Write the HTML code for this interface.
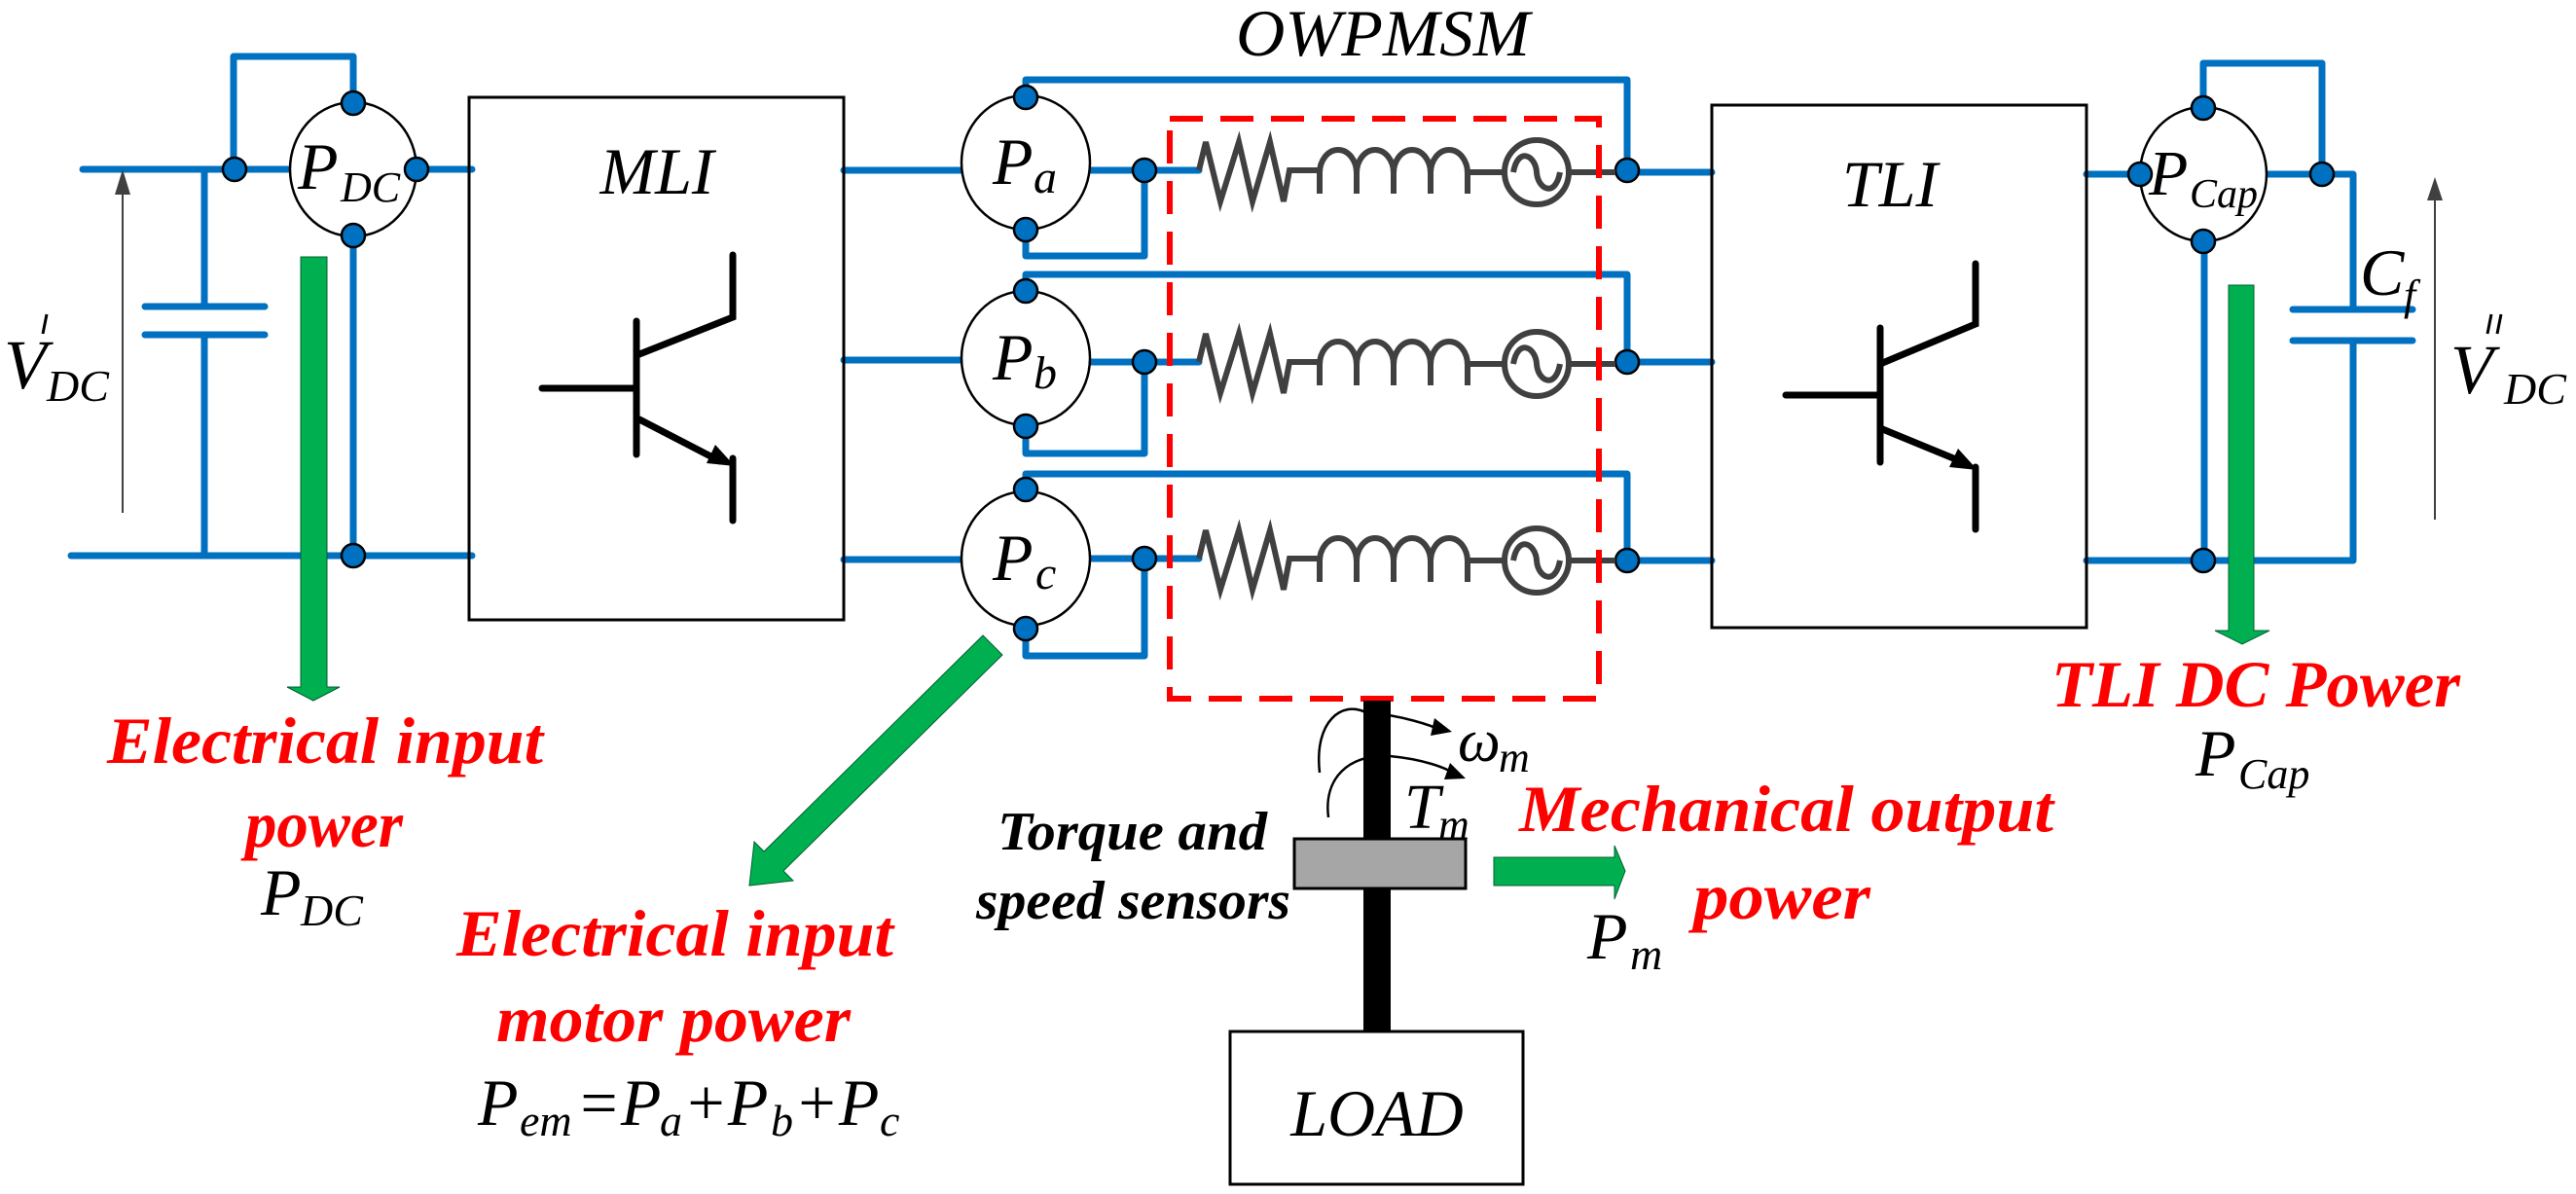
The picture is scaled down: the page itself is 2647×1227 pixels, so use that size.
<!DOCTYPE html>
<html><head><meta charset="utf-8"><style>html,body{margin:0;padding:0;background:#fff}svg{display:block}svg text{font-family:"Liberation Serif","DejaVu Serif",serif}</style></head>
<body>
<svg width="2647" height="1227" viewBox="0 0 2647 1227" xmlns="http://www.w3.org/2000/svg">
<g fill="none" stroke="#0070c0" stroke-width="7" stroke-linecap="round" stroke-linejoin="round">
<path d="M85,174 H485"/>
<path d="M73,571 H485"/>
<path d="M240,174 V58 H363 V106"/>
<path d="M210,174 V315 M149,315 H272 M149,344 H272 M210,344 V571"/>
<path d="M363,242 V571"/>
<path d="M867,175 H988 M1120,175 H1232 M1672,177 H1759"/>
<path d="M867,370 H988 M1120,372 H1232 M1672,372 H1759"/>
<path d="M867,575 H988 M1120,574 H1232 M1672,576 H1759"/>
<path d="M1054,100 V82 H1672 V177"/>
<path d="M1176,175 V263 H1054 V236"/>
<path d="M1054,299 V282 H1672 V372"/>
<path d="M1176,372 V466 H1054 V438"/>
<path d="M1054,503 V487 H1672 V576"/>
<path d="M1176,574 V674 H1054 V646"/>
<path d="M2144,179 H2199 M2329,179 H2418 V318 M2356,318 H2479 M2356,350 H2479 M2418,350 V576 H2144"/>
<path d="M2264,111 V65 H2386 V179"/>
<path d="M2265,248 V576"/>
</g>
<g fill="#fff" stroke="#000" stroke-width="2.5">
<ellipse cx="363" cy="174" rx="65" ry="69"/>
<ellipse cx="1054" cy="167" rx="66" ry="69"/>
<ellipse cx="1054" cy="368" rx="66" ry="69"/>
<ellipse cx="1054" cy="574" rx="66" ry="69"/>
<ellipse cx="2264" cy="179" rx="65" ry="69"/>
</g>
<g fill="#0070c0" stroke="#000" stroke-width="2.5">
<circle cx="241" cy="174" r="12"/><circle cx="428" cy="174" r="12"/><circle cx="363" cy="106" r="12"/><circle cx="363" cy="242" r="12"/><circle cx="363" cy="571" r="12"/>
<circle cx="1054" cy="100" r="12"/><circle cx="1054" cy="236" r="12"/><circle cx="1176" cy="175" r="12"/><circle cx="1672" cy="175" r="12"/>
<circle cx="1054" cy="299" r="12"/><circle cx="1054" cy="438" r="12"/><circle cx="1176" cy="372" r="12"/><circle cx="1672" cy="372" r="12"/>
<circle cx="1054" cy="503" r="12"/><circle cx="1054" cy="646" r="12"/><circle cx="1176" cy="574" r="12"/><circle cx="1672" cy="576" r="12"/>
<circle cx="2199" cy="179" r="12"/><circle cx="2386" cy="179" r="12"/><circle cx="2264" cy="111" r="12"/><circle cx="2264" cy="248" r="12"/><circle cx="2264" cy="576" r="12"/>
</g>
<g fill="none" stroke="#404040" stroke-width="6" stroke-linejoin="miter">
<g id="ph">
<path d="M1232,175 L1239,146 L1254,207 L1273,146 L1287,207 L1305,146 L1319,207 L1325,175 H1359"/>
<path d="M1356,199 V178 A19,24 0 0 1 1394,178 V199 M1394,178 A19,24 0 0 1 1432,178 V199 M1432,178 A19,24 0 0 1 1470,178 V199 M1470,178 A19,24 0 0 1 1508,178 V199 M1508,177 H1545"/>
<circle cx="1579" cy="177" r="33"/>
<path d="M1555,177 C1560,150 1578,160 1579,177 C1580,194 1598,204 1603,177"/>
<path d="M1612,177 H1660"/>
</g>
<use href="#ph" y="197"/>
<use href="#ph" y="399"/>
</g>
<rect x="1202" y="122" width="441" height="596" fill="none" stroke="#ff0000" stroke-width="6" stroke-dasharray="34,18"/>
<g fill="none" stroke="#000" stroke-width="3">
<rect x="482" y="100" width="385" height="537"/>
<rect x="1759" y="108" width="385" height="537"/>
<rect x="1264" y="1060" width="301" height="157"/>
</g>
<g fill="none" stroke="#000" stroke-width="7" stroke-linecap="round">
<path d="M557,399 H654 M654,330 V467 M657,364 L753,326 V262 M657,431 L740,474 M753,471 V535"/>
<path d="M1835,406 H1932 M1932,337 V475 M1932,374 L2030,333 V271 M1932,440 L2017,475 M2030,480 V544"/>
</g>
<polygon points="755,479 726,476 735,457" fill="#000"/>
<polygon points="2032,483 2003,480 2012,461" fill="#000"/>
<g stroke="#404040" stroke-width="2"><line x1="126" y1="527" x2="126" y2="195"/><line x1="2502" y1="534" x2="2502" y2="200"/></g>
<polygon points="126,174 118,200 134,200" fill="#404040"/>
<polygon points="2502,182 2494,206 2510,206" fill="#404040"/>
<g fill="#00b050" stroke="#006030" stroke-width="1">
<polygon points="309,264 336,264 336,706 349,706 322,720 295,706 309,706"/>
<polygon points="2290,293 2316,293 2316,648 2332,648 2304,662 2276,648 2290,648"/>
<polygon points="1030,673 805,895 815,905 770,910 775,865 785,875 1010,653"/>
<polygon points="1535,881 1659,881 1659,869 1670,895 1659,924 1659,910 1535,910"/>
</g>
<rect x="1401" y="720" width="28" height="340" fill="#000"/>
<rect x="1330" y="862" width="176" height="51" fill="#a6a6a6" stroke="#000" stroke-width="3"/>
<g fill="none" stroke="#000" stroke-width="2.5">
<path d="M1356,794 C1350,740 1380,720 1403,732 C1440,735 1470,745 1485,752"/>
<path d="M1365,840 C1360,800 1385,775 1428,777 C1460,780 1485,788 1498,797"/>
</g>
<polygon points="1492,752 1474,738 1470,756" fill="#000"/>
<polygon points="1506,800 1490,784 1484,801" fill="#000"/>
<!-- primes -->
<g stroke="#000" stroke-width="3">
<line x1="48" y1="323" x2="44" y2="343"/>
<line x1="2560" y1="323" x2="2556" y2="343"/><line x1="2570" y1="323" x2="2566" y2="343"/>
</g>
<g font-style="italic" fill="#000">
<text x="675" y="199" font-size="68" text-anchor="middle">MLI</text>
<text x="1942" y="212" font-size="68" text-anchor="middle">TLI</text>
<text x="1270" y="57" font-size="68" textLength="302" lengthAdjust="spacingAndGlyphs">OWPMSM</text>
<text x="1415" y="1167" font-size="68" text-anchor="middle">LOAD</text>
<text x="306" y="194" font-size="68">P</text><text x="350" y="207" font-size="44">DC</text>
<text x="1020" y="189" font-size="68">P</text><text x="1062" y="198" font-size="48">a</text>
<text x="1020" y="390" font-size="68">P</text><text x="1062" y="399" font-size="48">b</text>
<text x="1020" y="596" font-size="68">P</text><text x="1064" y="605" font-size="48">c</text>
<text x="2208" y="200" font-size="66">P</text><text x="2250" y="213" font-size="42">Cap</text>
<text x="4" y="399" font-size="72">V</text><text x="48" y="412" font-size="46">DC</text>
<text x="2518" y="404" font-size="72">V</text><text x="2573" y="415" font-size="46">DC</text>
<text x="2425" y="303" font-size="68">C</text><text x="2470" y="318" font-size="44">f</text>
<text x="268" y="940" font-size="68">P</text><text x="309" y="951" font-size="46">DC</text>
<text x="2256" y="797" font-size="68">P</text><text x="2300" y="810" font-size="44">Cap</text>
<text x="1631" y="985" font-size="68">P</text><text x="1675" y="996" font-size="46">m</text>
<text x="1498" y="782" font-size="62">ω</text><text x="1540" y="793" font-size="44">m</text>
<text x="1443" y="851" font-size="66">T</text><text x="1478" y="862" font-size="44">m</text>
<text x="491" y="1156" font-size="68">P</text><text x="534" y="1167" font-size="46">em</text><text x="592" y="1156" font-size="68">=P</text><text x="678" y="1167" font-size="46">a</text><text x="702" y="1156" font-size="68">+P</text><text x="792" y="1167" font-size="46">b</text><text x="816" y="1156" font-size="68">+P</text><text x="904" y="1167" font-size="46">c</text>
</g>
<g font-style="italic" font-weight="bold" fill="#ff0000" font-size="68">
<text x="110" y="784" textLength="448" lengthAdjust="spacingAndGlyphs">Electrical input</text>
<text x="252" y="870" textLength="162" lengthAdjust="spacingAndGlyphs">power</text>
<text x="469" y="982" textLength="449" lengthAdjust="spacingAndGlyphs">Electrical input</text>
<text x="510" y="1070" textLength="364" lengthAdjust="spacingAndGlyphs">motor power</text>
<text x="2108" y="726" textLength="420" lengthAdjust="spacingAndGlyphs">TLI DC Power</text>
<text x="1561" y="854" textLength="549" lengthAdjust="spacingAndGlyphs">Mechanical output</text>
<text x="1740" y="944" textLength="182" lengthAdjust="spacingAndGlyphs">power</text>
</g>
<g font-style="italic" font-weight="bold" fill="#000" font-size="56">
<text x="1025" y="873" textLength="277" lengthAdjust="spacingAndGlyphs">Torque and</text>
<text x="1003" y="944" textLength="323" lengthAdjust="spacingAndGlyphs">speed sensors</text>
</g>
</svg>
</body></html>
